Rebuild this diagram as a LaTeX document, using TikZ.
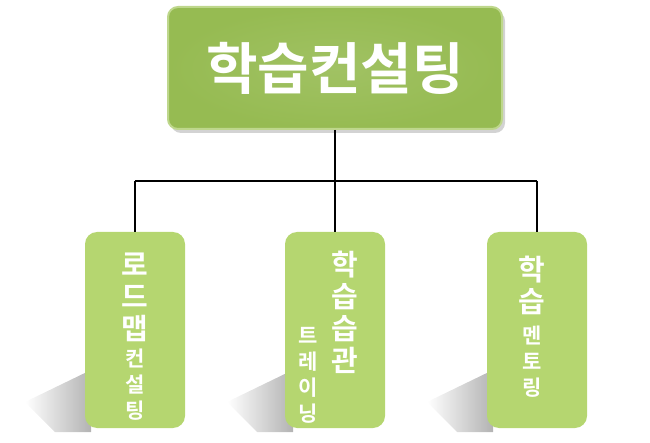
\documentclass[tikz,border=0pt]{standalone}
\usepackage{fontspec}
\newfontfamily\kr{Noto Sans CJK KR}[BoldFont={Noto Sans CJK KR Bold}]
\usetikzlibrary{positioning,shadows}
\definecolor{topgreen}{RGB}{150,187,82}
\definecolor{topedge}{RGB}{190,215,140}
\definecolor{boxgreen}{RGB}{181,214,112}
\tikzset{
    topbox/.style = {rounded corners = 10pt, draw = topedge, line width = 2pt, inner color = topgreen!90!white, outer color = topgreen, minimum width = 334pt, minimum height = 122pt, drop shadow = {shadow xshift = 3pt, shadow yshift = -4pt, opacity = .35}},
    subbox/.style = {rounded corners = 12pt, fill = boxgreen, minimum width = 100pt, minimum height = 196pt},
    big/.style = {text = white, font = \kr\bfseries\fontsize{29}{32}\selectfont, align = center},
    small/.style = {text = white, font = \kr\bfseries\fontsize{21}{26}\selectfont, align = center},
    link/.style = {line width = 1.5pt, black}
}
\begin{document}
\begin{tikzpicture}[x = 1pt, y = -1pt]
    \useasboundingbox (0, 0) rectangle (650, 443);

    % shadows of the lower boxes
    \foreach \sx in {85, 287, 487} {
        \shade [left color = white, right color = gray!60] (\sx + 6, 370) -- (\sx + 6, 432) -- (\sx - 30, 432) -- (\sx - 60, 402) -- cycle;
    }

    \node [topbox] (top) at (335, 68) {};
    \node [big, font = \kr\bfseries\fontsize{56}{56}\selectfont] (toptext) at (top) {학습컨설팅};

    \node [subbox] (road) at (135, 330) {};
    \node [subbox] (habit) at (335, 330) {};
    \node [subbox] (mentor) at (537, 330) {};

    % tree connectors
    \coordinate (split) at (335, 181);
    \coordinate (lsplit) at (135, 181);
    \coordinate (rsplit) at (537, 181);
    \draw [link] (top.south) -- (split);
    \draw [link] (lsplit) -- (rsplit);
    \draw [link] (lsplit) -- (road.north);
    \draw [link] (split) -- (habit.north);
    \draw [link] (rsplit) -- (mentor.north);

    % texts
    \node [big] (roadA) at (135, 297) {로\\드\\맵};
    \node [small] (roadB) at (135, 385) {컨\\설\\팅};
    \node [big] (habitA) at (345, 312) {학\\습\\습\\관};
    \node [small] (habitB) at (308, 375) {트\\레\\이\\닝};
    \node [big] (mentorA) at (532, 285) {학\\습};
    \node [small] (mentorB) at (532, 362) {멘\\토\\링};
\end{tikzpicture}
\end{document}
